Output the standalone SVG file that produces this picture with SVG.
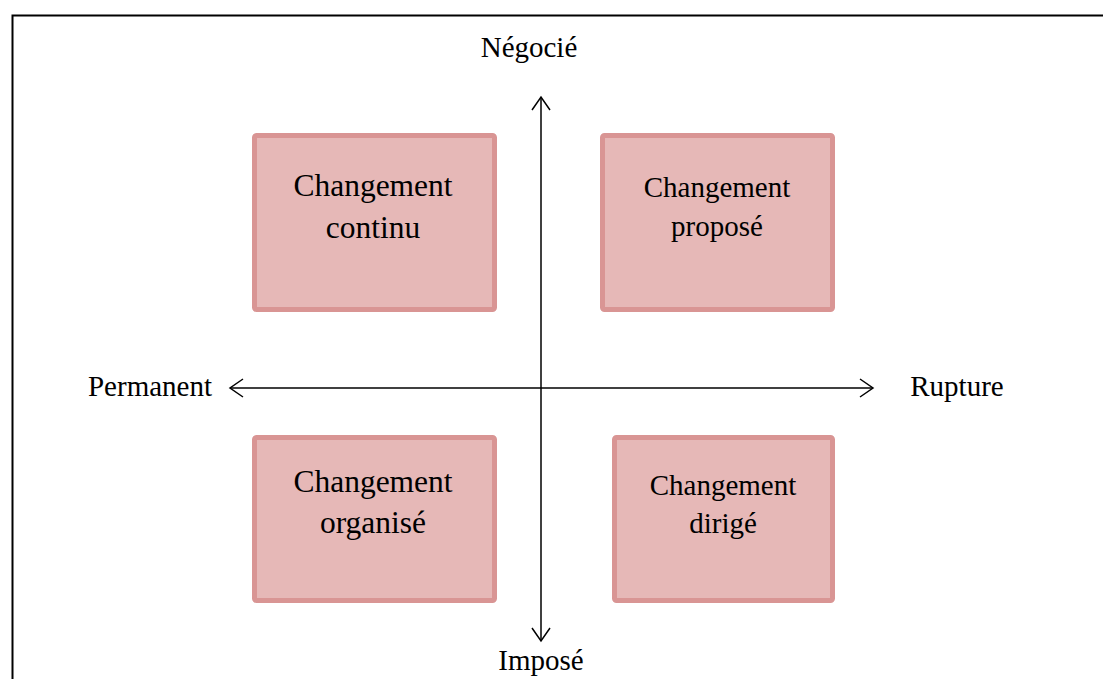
<svg xmlns="http://www.w3.org/2000/svg" width="1103" height="679" viewBox="0 0 1103 679">
  <style>
    .box { fill: #E6B8B7; stroke: #D99594; stroke-width: 5; }
    .lbl { font-family: "Liberation Serif", "Times New Roman", serif; fill: #000; text-anchor: middle; }
    .axis { stroke: #000; stroke-width: 1.5; fill: none; }
    .head { stroke: #000; stroke-width: 1.5; fill: none; }
  </style>
  <rect x="0" y="0" width="1103" height="679" fill="#fff"/>
  <!-- frame -->
  <path d="M12.5,679 V15.5 H1103" fill="none" stroke="#000" stroke-width="2"/>

  <g id="connectors">
    <line class="axis" x1="541" y1="97" x2="541" y2="641"/>
    <line class="axis" x1="230" y1="388" x2="873" y2="388"/>
    <polyline class="head" points="532,110 541,97 550,110"/>
    <polyline class="head" points="532,628 541,641 550,628"/>
    <polyline class="head" points="243,379 230,388 243,397"/>
    <polyline class="head" points="860,379 873,388 860,397"/>
  </g>

  <g id="axis-top"><text class="lbl" x="529" y="57" font-size="29">Négocié</text></g>
  <g id="axis-bottom"><text class="lbl" x="541" y="670" font-size="29">Imposé</text></g>
  <g id="axis-left"><text class="lbl" x="150" y="396" font-size="29">Permanent</text></g>
  <g id="axis-right"><text class="lbl" x="957" y="396" font-size="29">Rupture</text></g>

  <g id="continu">
    <rect class="box" x="254.5" y="135.5" width="240" height="174" rx="2"/>
    <text class="lbl" x="373" y="196" font-size="31.5">Changement</text>
    <text class="lbl" x="373" y="238" font-size="31.5">continu</text>
  </g>
  <g id="propose">
    <rect class="box" x="602.5" y="135.5" width="230" height="174" rx="2"/>
    <text class="lbl" x="717" y="197" font-size="29">Changement</text>
    <text class="lbl" x="717" y="236" font-size="29">proposé</text>
  </g>
  <g id="organise">
    <rect class="box" x="254.5" y="437.5" width="240" height="163" rx="2"/>
    <text class="lbl" x="373" y="492" font-size="31.5">Changement</text>
    <text class="lbl" x="373" y="533" font-size="31.5">organisé</text>
  </g>
  <g id="dirige">
    <rect class="box" x="614.5" y="437.5" width="218" height="163" rx="2"/>
    <text class="lbl" x="723" y="495" font-size="29">Changement</text>
    <text class="lbl" x="723" y="533" font-size="29">dirigé</text>
  </g>
</svg>
